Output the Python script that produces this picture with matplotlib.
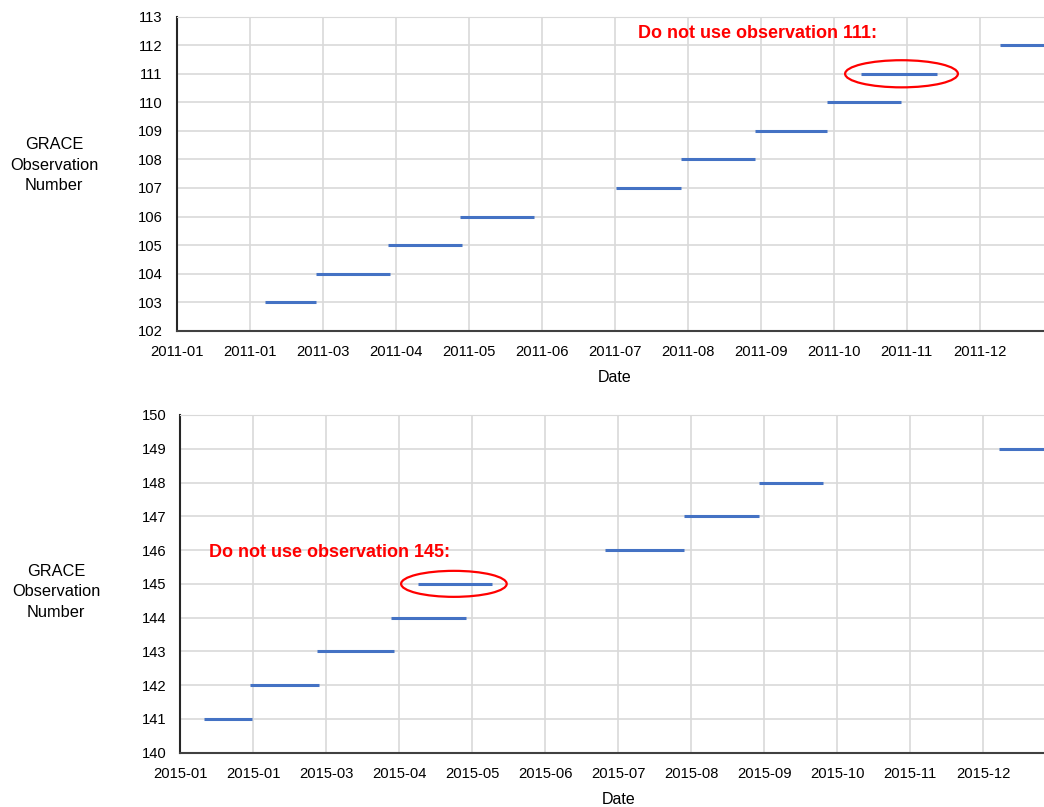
import matplotlib
matplotlib.use("Agg")
import matplotlib.pyplot as plt
import matplotlib.dates as mdates
from matplotlib.patches import Ellipse
from datetime import datetime, timedelta

plt.rcParams['font.family'] = ['Liberation Sans', 'DejaVu Sans']

# 2011 panel
obs_2011 = [103, 104, 105, 106, 107, 108, 109, 110, 111, 112]
start_2011 = ["2011-02-07", "2011-02-28", "2011-03-30", "2011-04-29", "2011-07-03",
              "2011-07-30", "2011-08-30", "2011-09-29", "2011-10-13", "2011-12-10"]
end_2011 = ["2011-02-28", "2011-03-31", "2011-04-30", "2011-05-30", "2011-07-30",
            "2011-08-30", "2011-09-29", "2011-10-30", "2011-11-14", "2012-01-09"]
ticks_2011 = ["2011-01", "2011-01", "2011-03", "2011-04", "2011-05", "2011-06",
              "2011-07", "2011-08", "2011-09", "2011-10", "2011-11", "2011-12"]

# 2015 panel
obs_2015 = [141, 142, 143, 144, 145, 146, 147, 148, 149]
start_2015 = ["2015-01-11", "2015-01-30", "2015-02-27", "2015-03-30", "2015-04-10",
              "2015-06-27", "2015-07-30", "2015-08-30", "2015-12-08"]
end_2015 = ["2015-01-31", "2015-02-28", "2015-03-31", "2015-04-30", "2015-05-11",
            "2015-07-30", "2015-08-30", "2015-09-26", "2016-01-08"]
ticks_2015 = ["2015-01", "2015-01", "2015-03", "2015-04", "2015-05", "2015-06",
              "2015-07", "2015-08", "2015-09", "2015-10", "2015-11", "2015-12"]

BLUE = '#4472C4'
GRID = '#d9d9d9'


def d(s):
    return datetime.strptime(s, "%Y-%m-%d")


def draw_panel(ax, obs, starts, ends, tick_labels, year, ylim, bad, note_x, note_y,
               ell_center, ell_w, ell_h):
    t0 = datetime(year, 1, 1)
    step = 365 / 12
    ticks = [t0 + timedelta(days=k * step) for k in range(len(tick_labels))]

    ax.hlines(obs, [d(s) for s in starts], [d(e) for e in ends],
              colors=BLUE, lw=2.2, zorder=3)

    ax.set_xlim(t0, datetime(year + 1, 1, 1))
    ax.set_ylim(*ylim)
    ax.set_xticks(ticks)
    ax.set_xticklabels(tick_labels)
    ax.set_yticks(range(ylim[0], ylim[1] + 1))
    ax.grid(True, color=GRID, lw=1.2, zorder=0)
    ax.set_axisbelow(True)
    ax.tick_params(length=0, labelsize=10.6, colors='#000000')
    ax.tick_params(axis='y', pad=10)
    ax.tick_params(axis='x', pad=10.5)
    ax.spines['right'].set_visible(False)
    ax.spines['top'].set_color(GRID)
    ax.spines['left'].set_color('#262626')
    ax.spines['bottom'].set_color('#404040')
    ax.spines['left'].set_linewidth(1.5)
    ax.spines['bottom'].set_linewidth(1.5)
    ax.set_xlabel("Date", fontsize=11.5, labelpad=8)

    ax.text(d(note_x), note_y, f"Do not use observation {bad}:", color='#ff0000',
            fontsize=13, fontweight='bold', ha='center', va='center')
    ax.add_patch(Ellipse((mdates.date2num(d(ell_center)), bad), ell_w, ell_h,
                         fill=False, edgecolor='#ff0000', lw=1.6, zorder=4))


fig = plt.figure(figsize=(10.44, 8.07), dpi=100)

ax1 = fig.add_axes([0.16925, 0.59021, 0.83908, 0.38910])
draw_panel(ax1, obs_2011, start_2011, end_2011, ticks_2011, 2011, (102, 113), 111,
           "2011-08-31", 112.42, "2011-10-30", 47, 0.95)

ax2 = fig.add_axes([0.17270, 0.06729, 0.83908, 0.41846])
draw_panel(ax2, obs_2015, start_2015, end_2015, ticks_2015, 2015, (140, 150), 145,
           "2015-03-04", 145.92, "2015-04-25", 44, 0.77)

fig.text(54 / 1044, 1 - 165 / 807, "GRACE\nObservation\nNumber", fontsize=11.8,
         ha='center', va='center', multialignment='center', linespacing=1.42)
fig.text(56 / 1044, 1 - 592 / 807, "GRACE\nObservation\nNumber", fontsize=11.8,
         ha='center', va='center', multialignment='center', linespacing=1.42)

fig.savefig("out.png", dpi=100)
